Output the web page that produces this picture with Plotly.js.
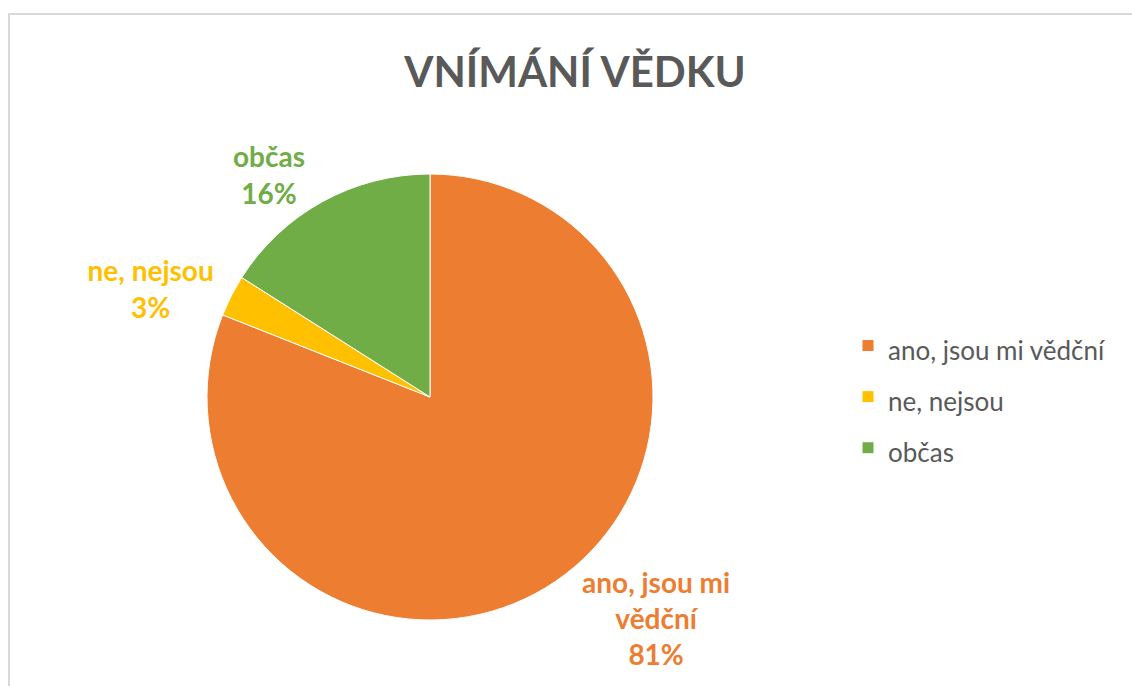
<!DOCTYPE html>
<html>
<head>
<meta charset="utf-8">
<script src="https://cdn.plot.ly/plotly-3.0.1.min.js"></script>
<style>html,body{margin:0;padding:0;background:#fff;}#chart{width:1132px;height:686px;}</style>
</head>
<body>
<div id="chart"></div>
<script>
const categories = ["ano, jsou mi vědční", "ne, nejsou", "občas"];
const sliceText = ["ano, jsou mi<br>vědční", "ne, nejsou", "občas"];
const values = [81, 3, 16];
const colors = ["#ED7D31", "#FFC000", "#70AD47"];

const W = 1132, H = 686;
const cx = 430, cy = 397, r = 223;
const FONT = "Lato, 'Open Sans', sans-serif";

const legendLabels = categories.map(c => '<span style="font-size:26px">' + c + '</span>');

const trace = {
  type: "pie",
  labels: legendLabels,
  values: values,
  text: sliceText,
  sort: false,
  direction: "clockwise",
  rotation: 0,
  marker: {colors: colors, line: {color: "#ffffff", width: 1}},
  textposition: "outside",
  texttemplate: "<b>%{text}<br>%{percent:.0%}</b>",
  outsidetextfont: {family: FONT, size: 28, color: colors},
  automargin: false,
  hoverinfo: "text+percent",
  domain: {x: [(cx - r) / W, (cx + r) / W], y: [1 - (cy + r) / H, 1 - (cy - r) / H]}
};

const layout = {
  width: W, height: H,
  margin: {l: 0, r: 0, t: 0, b: 0},
  paper_bgcolor: "#ffffff",
  title: {
    text: "<b>VNÍMÁNÍ VĚDKU</b>",
    font: {family: FONT, size: 42, color: "#595959"},
    x: 575 / W, xanchor: "center",
    y: 1 - 72 / H, yanchor: "middle"
  },
  showlegend: true,
  legend: {
    x: 848 / W, xanchor: "left",
    y: 1 - 397 / H, yanchor: "middle",
    font: {family: FONT, size: 37, color: "#595959"},
    itemwidth: 30,
    traceorder: "normal"
  },
  shapes: [{
    type: "rect", xref: "paper", yref: "paper",
    x0: 9 / W, x1: 1.02, y0: -0.02, y1: 1 - 14 / H,
    line: {color: "#d9d9d9", width: 2}
  }]
};

Plotly.newPlot("chart", [trace], layout, {displayModeBar: false, staticPlot: true});
</script>
</body>
</html>
